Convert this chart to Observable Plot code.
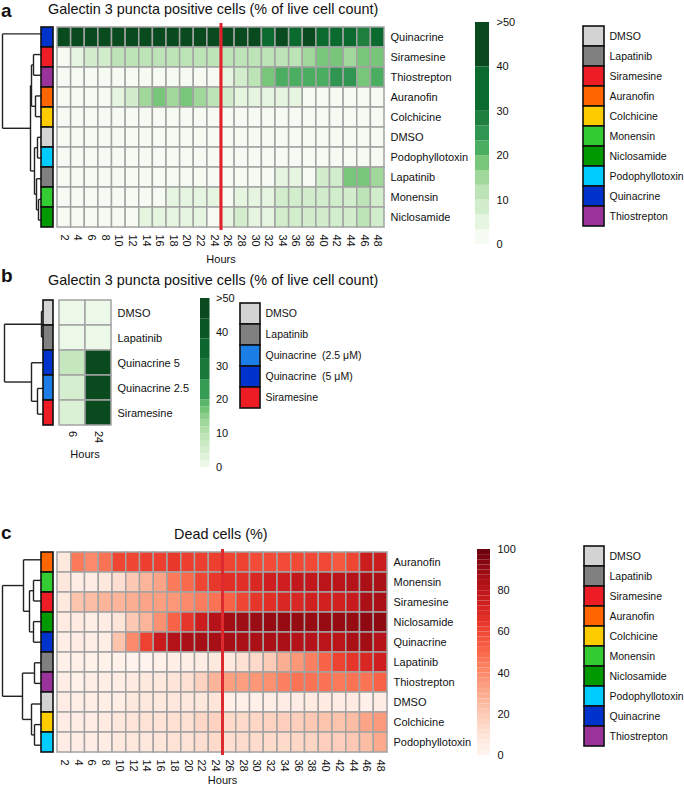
<!DOCTYPE html>
<html><head><meta charset="utf-8">
<script src="https://cdn.jsdelivr.net/npm/d3@7"></script>
<script src="https://cdn.jsdelivr.net/npm/@observablehq/plot@0.6"></script>
<style>
body{margin:0;background:#fff;font-family:"Liberation Sans",Arial,sans-serif;color:#111}
#root{position:relative;width:684px;height:786px;overflow:hidden}
.t{position:absolute;white-space:nowrap;font-size:14.4px;line-height:17px}
.L{position:absolute;font-size:19px;font-weight:bold;line-height:21px}
</style></head>
<body><div id="root"></div>
<script>
// ---------- Panel a : Galectin 3 puncta positive cells ----------
const hoursA = [2,4,6,8,10,12,14,16,18,20,22,24,26,28,30,32,34,36,38,40,42,44,46,48];
const drugsA = ["Quinacrine","Siramesine","Thiostrepton","Auranofin","Colchicine","DMSO","Podophyllotoxin","Lapatinib","Monensin","Niclosamide"];
const aQuinacrine      = [45,45,45,45,45,45,45,45,45,45,45,45,45,45,45,35,45,35,45,35,35,35,28,35];
const aSiramesine      = [2,5,8,8,11,11,11,11,11,11,11,11,11,11,11,11,12,11,15,17,17,15,18,18];
const aThiostrepton    = [1,1,1,1,1,1,1,1,1,1,2,1,5,8,12,17,21,22,22,22,25,25,18,22];
const aAuranofin       = [1,1,1,1,4,8,15,18,15,18,15,11,8,6,6,5,4,4,2,1,1,1,1,1];
const aColchicine      = [1,1,1,1,1,1,1,1,1,1,1,1,1,1,1,1,1,1,1,1,1,1,1,1];
const aDMSO            = [1,1,1,1,1,1,1,1,1,1,1,1,1,1,1,1,1,1,1,1,1,1,1,1];
const aPodophyllotoxin = [1,1,1,1,1,1,1,1,1,1,1,1,1,1,1,1,1,1,1,1,1,1,1,1];
const aLapatinib       = [1,1,1,1,1,1,1,1,1,1,1,1,1,1,1,1,4,4,2,7,7,17,17,16];
const aMonensin        = [1,1,1,1,1,1,1,1,4,4,4,4,2,4,4,4,7,7,7,7,7,7,11,8];
const aNiclosamide     = [1,1,1,1,1,1,4,4,4,4,4,2,4,8,4,4,7,7,7,7,7,7,11,7];
const seriesA = [aQuinacrine,aSiramesine,aThiostrepton,aAuranofin,aColchicine,aDMSO,aPodophyllotoxin,aLapatinib,aMonensin,aNiclosamide];
// dendrogram merges: [childA, childB, height]
const mergesA = [[1,2,8],[3,4,6],[10,11,10],[5,6,4],[8,9,3],[7,14,5],[13,15,7],[12,16,11],[0,17,39]];
const treatmentChange = [25];

// ---------- Panel b ----------
const hoursB = [6,24];
const drugsB = ["DMSO","Lapatinib","Quinacrine 5","Quinacrine 2.5","Siramesine"];
const bDMSO = [1,1];
const bLapatinib = [1,1];
const bQuinacrine5 = [8,55];
const bQuinacrine25 = [5,55];
const bSiramesine = [4,55];
const seriesB = [bDMSO,bLapatinib,bQuinacrine5,bQuinacrine25,bSiramesine];
const mergesB = [[0,1,2],[3,4,6],[2,6,12],[5,7,39]];
const legendB = ["DMSO","Lapatinib","Quinacrine\u00a0\u00a0(2.5 μM)","Quinacrine\u00a0\u00a0(5 μM)","Siramesine"];
const legendBColors = ["#d3d3d3","#808080","#1a7ee6","#0033cc","#ee1c25"];
const keyB = ["DMSO","Lapatinib","Quinacrine\u00a0\u00a0(5 μM)","Quinacrine\u00a0\u00a0(2.5 μM)","Siramesine"];

// ---------- Panel c : Dead cells ----------
const drugsC = ["Auranofin","Monensin","Siramesine","Niclosamide","Quinacrine","Lapatinib","Thiostrepton","DMSO","Colchicine","Podophyllotoxin"];
const cAuranofin       = [7,45,40,47,60,60,62,62,64,62,62,62,60,61,58,58,58,59,59,59,55,60,75,75];
const cMonensin        = [8,5,5,8,12,20,27,32,45,50,60,64,67,67,70,74,74,78,78,80,80,82,85,85];
const cSiramesine      = [7,22,24,27,27,29,32,34,36,40,44,47,52,60,65,67,70,70,73,73,73,76,85,85];
const cNiclosamide     = [6,6,4,5,9,20,27,38,52,65,75,82,87,88,89,90,90,90,90,90,90,90,92,92];
const cQuinacrine      = [4,5,4,4,22,40,61,76,83,85,86,86,86,85,85,85,85,82,82,80,80,85,87,82];
const cLapatinib       = [3,3,2,2,2,1,1,3,4,4,5,7,7,11,14,19,29,36,43,52,61,65,70,74];
const cThiostrepton    = [4,2,4,4,4,6,7,7,9,11,17,27,34,34,36,38,43,47,47,47,45,47,47,52];
const cDMSO            = [5,4,4,4,4,7,7,7,8,8,8,9,3,3,3,4,5,5,6,6,5,6,3,5];
const cColchicine      = [5,5,5,6,8,9,10,10,11,11,15,17,14,14,15,17,18,18,20,22,22,24,32,35];
const cPodophyllotoxin = [5,5,5,5,7,8,8,9,10,10,12,14,12,13,13,14,14,15,16,18,18,20,24,30];
const seriesC = [cAuranofin,cMonensin,cSiramesine,cNiclosamide,cQuinacrine,cLapatinib,cThiostrepton,cDMSO,cColchicine,cPodophyllotoxin];
const mergesC = [[1,2,8],[3,4,8],[10,11,12],[0,12,18],[5,6,7],[8,9,7],[7,15,10],[14,16,19],[13,17,39]];

// ---------- annotation legend (a, c) ----------
const legendDrugs = ["DMSO","Lapatinib","Siramesine","Auranofin","Colchicine","Monensin","Niclosamide","Podophyllotoxin","Quinacrine","Thiostrepton"];
const legendColors = ["#d3d3d3","#808080","#ee1c25","#ff6600","#ffcc00","#33cc33","#009900","#00ccff","#0033cc","#993399"];

// ---------- colour scales ----------
const greenThresholds = [3.33,6.67,10,13.33,16.67,20,23.33,26.67,30,40];
const greenColors = ["#f5fbf2","#e5f5e0","#d2edcb","#bde4b6","#a0d89b","#78c67a","#4aad5f","#2f9550","#1f7f3f","#0b6a2e","#0a4a1f"];
const greenStopsB = [0,1.67,5,8.33,11.67,15,18.33,21.67,25,28.33,35,45];
const legendEdgesA = [0,3.33,6.67,10,13.33,16.67,20,23.33,26.67,30,40,50];
const legendEdgesB = [0,2,4,6,8,10,12,14,16,18,20,26,32,38,44,50];
const ticksA = [0,10,20,30,40,50];
const ticksC = [0,20,40,60,80,100];

const FONT = "'Liberation Sans', Arial, sans-serif";
const root = document.getElementById("root");
function place(el, left, top){
  const d = document.createElement("div");
  d.style.cssText = `position:absolute;left:${left}px;top:${top}px`;
  d.appendChild(el); root.appendChild(d);
}
function text(cls, s, left, top, extra=""){
  const d = document.createElement("div");
  d.className = cls; d.textContent = s;
  d.style.cssText += `left:${left}px;top:${top}px;${extra}`;
  root.appendChild(d);
}
const baseStyle = {background:"transparent", overflow:"visible", fontFamily:FONT, fontSize:"11px", color:"#111", maxWidth:"none"};

function tidy(rows, hours, series){
  const out = [];
  rows.forEach((r,i)=>hours.forEach((h,j)=>out.push({drug:r, hour:h, value:series[i][j]})));
  return out;
}
function dendroSegs(n, merges){
  const pos = d3.range(n).map(i=>({y:i, h:0}));
  const segs = [];
  for (const [a,b,h] of merges){
    const A = pos[a], B = pos[b];
    segs.push({x1:A.h,y1:A.y,x2:h,y2:A.y});
    segs.push({x1:B.h,y1:B.y,x2:h,y2:B.y});
    segs.push({x1:h,y1:A.y,x2:h,y2:B.y});
    pos.push({y:(A.y+B.y)/2, h});
  }
  return segs;
}
function dendro(n, merges, width, height, left, top){
  const p = Plot.plot({
    width, height, margin:0, style:baseStyle,
    x:{domain:[width,0], axis:null},
    y:{domain:[-0.5,n-0.5], reverse:true, axis:null},
    marks:[Plot.link(dendroSegs(n,merges), {x1:"x1",y1:"y1",x2:"x2",y2:"y2", stroke:"#222", strokeWidth:1.4})]
  });
  place(p, left, top);
}
function annot(rows, keys, domain, range, width, height, left, top){
  const p = Plot.plot({
    width:width+2, height:height+2, margin:1, style:baseStyle,
    y:{type:"band", domain:rows, padding:0, axis:null},
    color:{type:"ordinal", domain, range},
    marks:[
      Plot.cell(rows.map((r,i)=>({r, k:keys[i]})), {y:"r", fill:"k", stroke:"#111", strokeWidth:1.6})
    ]
  });
  place(p, left-1, top-1);
}
function catLegend(names, colors, boxW, boxH, left, top){
  const p = Plot.plot({
    width:boxW+2+90, height:boxH+2, marginTop:1, marginBottom:1, marginLeft:1, marginRight:90,
    style:baseStyle,
    y:{type:"band", domain:names, padding:0},
    color:{type:"ordinal", domain:names, range:colors},
    marks:[
      Plot.cell(names, {y:d=>d, fill:d=>d, stroke:"#111", strokeWidth:1.6}),
      Plot.axisY({anchor:"right", tickSize:0, tickPadding:5, label:null, fontSize:10.5})
    ]
  });
  place(p, left-1, top-1);
}
function colorBar(edges, colorOpts, domain, ticks, fmt, barW, barH, left, top, pad){
  const bins = d3.pairs(edges).map(([lo,hi])=>({lo,hi,mid:(lo+hi)/2}));
  const p = Plot.plot({
    width:barW+40, height:barH+20, marginTop:10, marginBottom:10, marginLeft:0, marginRight:40,
    style:baseStyle,
    x:{domain:[0,1], axis:null},
    y:{domain},
    color:colorOpts,
    marks:[
      Plot.rect(bins, {x1:0, x2:1, y1:"lo", y2:"hi", fill:"mid"}),
      Plot.axisY(ticks, {anchor:"right", tickSize:0, tickPadding:pad, label:null, fontSize:11, tickFormat:fmt})
    ]
  });
  place(p, left, top-10);
}

const greenA = {type:"threshold", domain:greenThresholds, range:greenColors};
const greenB = {type:"linear", domain:greenStopsB, range:greenColors, clamp:true};
const redsC = {type:"linear", scheme:"reds", domain:[0,100], clamp:true};
const fmt50 = d => d===50 ? ">50" : String(d);

// ===== Panel a =====
text("L","a",1,0);
text("t","Galectin 3 puncta positive cells (% of live cell count)",48,1);
dendro(drugsA.length, mergesA, 41, 207, 0, 23);
annot(drugsA, drugsA, legendDrugs, legendColors, 12, 207, 41.3, 23);
place(Plot.plot({
  width:484, height:266, marginLeft:57, marginRight:100, marginTop:23, marginBottom:36,
  style:baseStyle,
  x:{domain:[1,49]},
  y:{type:"band", domain:drugsA, padding:0},
  color:greenA,
  marks:[
    Plot.barX(tidy(drugsA,hoursA,seriesA), {x1:d=>d.hour-1, x2:d=>d.hour+1, y:"drug", fill:"value", stroke:"#a3a3a3", strokeWidth:1.5}),
    Plot.ruleX(treatmentChange, {stroke:"#e3202a", strokeWidth:3}),
    Plot.axisX(hoursA, {tickSize:0, tickRotate:90, tickPadding:4, fontSize:11, label:"Hours", labelAnchor:"center", labelArrow:"none", labelOffset:32}),
    Plot.axisY({anchor:"right", tickSize:0, tickPadding:6, label:null, fontSize:11})
  ]
}), 0, 0);
colorBar(legendEdgesA, greenA, [0,50], ticksA, fmt50, 14, 222, 475, 22, 7);
catLegend(legendDrugs, legendColors, 20, 206, 583, 22.7);

// ===== Panel b =====
text("L","b",1,265);
text("t","Galectin 3 puncta positive cells (% of live cell count)",48,272);
dendro(drugsB.length, mergesB, 43, 128.5, 0, 298.3);
annot(drugsB, keyB, legendB, legendBColors, 10, 128.5, 43.3, 298.3);
place(Plot.plot({
  width:211, height:172.5, marginLeft:58, marginRight:100, marginTop:8.3, marginBottom:36,
  style:baseStyle,
  x:{type:"band", domain:hoursB, padding:0},
  y:{type:"band", domain:drugsB, padding:0},
  color:greenB,
  marks:[
    Plot.cell(tidy(drugsB,hoursB,seriesB), {x:"hour", y:"drug", fill:"value", stroke:"#a3a3a3", strokeWidth:1.5}),
    Plot.axisX({tickSize:0, tickRotate:90, tickPadding:4, fontSize:11, label:"Hours", labelAnchor:"center", labelArrow:"none", labelOffset:31}),
    Plot.axisY({anchor:"right", tickSize:0, tickPadding:6, label:null, fontSize:11})
  ]
}), 0, 290);
colorBar(legendEdgesB, greenB, [0,50], ticksA, fmt50, 9.5, 169, 200, 298, 6);
catLegend(legendB, legendBColors, 19, 105, 240, 302.5);

// ===== Panel c =====
text("L","c",1,522);
text("t","Dead cells (%)",174,526);
dendro(drugsC.length, mergesC, 41, 206, 0, 549);
annot(drugsC, drugsC, legendDrugs, legendColors, 12, 206, 41.3, 549);
place(Plot.plot({
  width:487, height:240, marginLeft:57, marginRight:100, marginTop:5, marginBottom:29,
  style:baseStyle,
  x:{domain:[1,49]},
  y:{type:"band", domain:drugsC, padding:0},
  color:redsC,
  marks:[
    Plot.barX(tidy(drugsC,hoursA,seriesC), {x1:d=>d.hour-1, x2:d=>d.hour+1, y:"drug", fill:"value", stroke:"#a3a3a3", strokeWidth:1.5}),
    Plot.ruleX(treatmentChange, {stroke:"#dc2a2e", strokeWidth:3}),
    Plot.axisX(hoursA, {tickSize:0, tickRotate:90, tickPadding:4, fontSize:11, label:"Hours", labelAnchor:"center", labelArrow:"none", labelOffset:28}),
    Plot.axisY({anchor:"right", tickSize:0, tickPadding:6, label:null, fontSize:11})
  ]
}), 0, 544);
colorBar(d3.range(0,100.01,2.5), redsC, [0,100], ticksC, d=>String(d), 13, 206, 477, 549, 7);
catLegend(legendDrugs, legendColors, 19, 207, 584, 541.7);
</script></body></html>
